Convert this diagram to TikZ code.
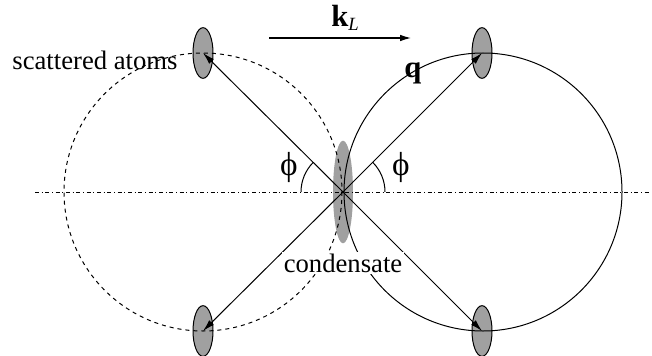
\documentclass[tikz,border=0pt]{standalone}
\usepackage{fontspec}
\setmainfont{Liberation Serif}
\usetikzlibrary{arrows.meta,shapes.geometric}

\definecolor{atomgray}{RGB}{160,160,160}
\tikzset{every picture/.style={line width=0.75pt}}
\tikzset{
  atom/.style={ellipse, draw, fill=atomgray, minimum width=15pt, minimum height=38pt, inner sep=0pt},
  condens/.style={ellipse, fill=atomgray, minimum width=15pt, minimum height=77pt, inner sep=0pt},
  recoil/.style={-{Latex[length=9pt,width=5pt]}},
  lbl/.style={inner sep=1pt, font=\fontsize{20}{23}\selectfont},
  philbl/.style={inner sep=0pt, font=\fontsize{25}{28}\selectfont}
}

\begin{document}
\begin{tikzpicture}[x=0.75pt,y=0.75pt,yscale=-1,xscale=1]
\useasboundingbox (0,0) rectangle (652,356);

% Ellipses (atoms and condensate)
\node [condens] (cond) at (343,192) {};
\node [atom] (tl) at (203,53) {};
\node [atom] (tr) at (482,53) {};
\node [atom] (bl) at (203,331) {};
\node [atom] (br) at (482,331) {};

%Dash-dot axis
\draw [dash dot] (35,192) -- (650,192) ;
%Circles
\draw [dashed] (203,192) circle [radius=139] ;
\draw (483,192) circle [radius=139] ;

%Straight Lines
\draw [recoil] (cond.center) -- (tl.center) ;
\draw [recoil] (cond.center) -- (tr.center) ;
\draw [recoil] (cond.center) -- (bl.center) ;
\draw [recoil] (cond.center) -- (br.center) ;

%Angles
\draw (385,192) arc [start angle=0, end angle=-45, radius=42] ;
\draw (301,192) arc [start angle=180, end angle=225, radius=42] ;

%Laser direction
\coordinate (kstart) at (269,38) ;
\coordinate (kend) at (412,38) ;
\draw [recoil, line width=1.5pt] (kstart) -- (kend) ;

% Text Node
\node [lbl] (klabel) at (345,18) {\fontsize{23}{26}\selectfont\textbf{k}\raisebox{-0.3ex}{\fontsize{14}{16}\selectfont\textit{L}}};
% Text Node
\node [lbl] (qlabel) at (413,73) {\fontsize{23}{26}\selectfont\textbf{q}};
% Text Node
\node [lbl] (scat) at (95,60) {scattered atoms};
% Text Node
\node [lbl, fill=white] (condlabel) at (343,263) {condensate};
% Text Node
\node [philbl] (phil) at (289,167) {ϕ};
% Text Node
\node [philbl] (phir) at (401,167) {ϕ};

\end{tikzpicture}
\end{document}
